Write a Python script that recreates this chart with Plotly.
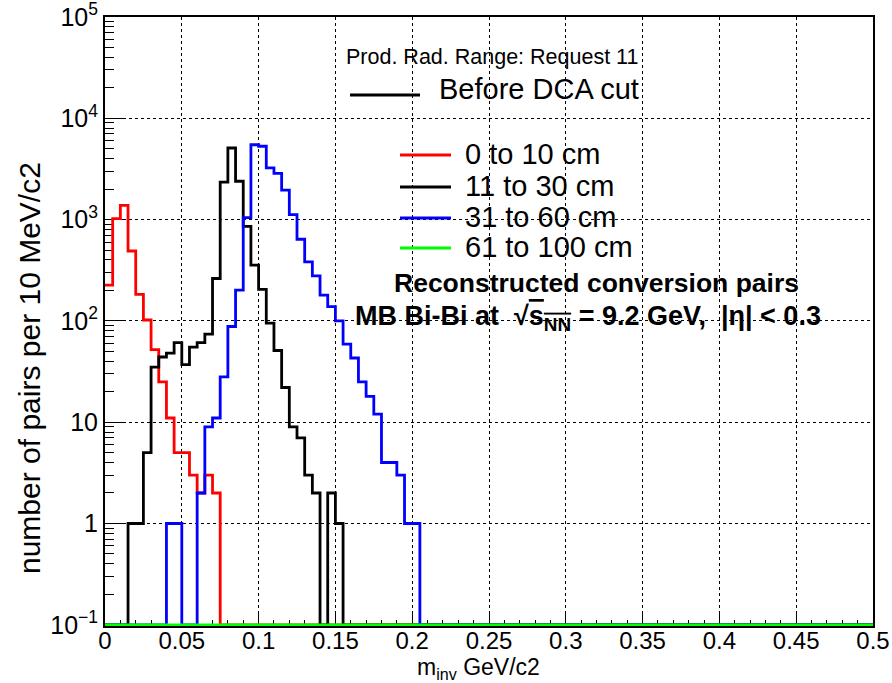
import plotly.graph_objects as go

# ---------------- data ----------------
BIN_WIDTH = 0.005          # GeV/c2
X_MIN, X_MAX = 0.0, 0.5
N_BINS = 100
Y_FLOOR = 0.1              # empty bins are drawn on the bottom of the log axis

# counts per bin, listed from the first non-empty bin
red_first_bin = 0          # 0 to 10 cm
red_counts = [225, 1020, 1380, 490, 183, 102, 52, 25, 11, 5, 5, 3, 2, 3, 2]

black_first_bin = 3        # 11 to 30 cm
black_counts = [1, 1, 5, 35, 44, 48, 61, 37, 55, 61, 74, 262, 2340, 5090, 2390,
                857, 355, 205, 95, 51, 22, 9, 7, 3, 2, 0, 2, 1]

blue_first_bin = 8         # 31 to 60 cm
blue_counts = [1, 1, 0, 0, 2, 9, 11, 28, 88, 201, 1045, 5480, 5300, 3240, 2860,
               1950, 1120, 640, 382, 278, 180, 138, 100, 59, 43, 25, 18, 12, 4, 4,
               3, 1, 1]

green_first_bin = 0        # 61 to 100 cm (empty)
green_counts = []

series_names = ["0 to 10 cm", "11 to 30 cm", "31 to 60 cm", "61 to 100 cm"]
series_colors = ["#ff0000", "#000000", "#0000ff", "#00ff00"]

x_tick_vals = [0, 0.05, 0.1, 0.15, 0.2, 0.25, 0.3, 0.35, 0.4, 0.45, 0.5]
x_tick_text = ["0", "0.05", "0.1", "0.15", "0.2", "0.25", "0.3", "0.35", "0.4", "0.45", "0.5"]
y_tick_vals = [0.1, 1, 10, 100, 1000, 10000, 100000]
y_tick_text = ["10<sup>\u22121</sup>", "1", "10", "10<sup>2</sup>", "10<sup>3</sup>",
               "10<sup>4</sup>", "10<sup>5</sup>"]

FONT = "Liberation Sans, Arial, sans-serif"

# ---------------- helpers ----------------
edges = [X_MIN + i * BIN_WIDTH for i in range(N_BINS + 1)]


def full_hist(first, counts):
    vals = [0] * N_BINS
    for i, c in enumerate(counts):
        vals[first + i] = c
    return vals


def step_y(vals):
    shown = [max(v, Y_FLOOR) for v in vals]
    return shown + [shown[-1]]


hists = [full_hist(red_first_bin, red_counts),
         full_hist(black_first_bin, black_counts),
         full_hist(blue_first_bin, blue_counts),
         full_hist(green_first_bin, green_counts)]

fig = go.Figure()
for name, color, vals in zip(series_names, series_colors, hists):
    fig.add_trace(go.Scatter(x=edges, y=step_y(vals), mode="lines",
                             line=dict(color=color, width=2.8, shape="hv"),
                             name=name, showlegend=False, hoverinfo="skip"))

# ---------------- layout ----------------
W, H = 892, 683
L, R, T, B = 105, 19, 17, 57
PW, PH = W - L - R, H - T - B


def px(x):
    return (x - L) / PW


def py(y):
    return (H - B - y) / PH


minor_y = [m * 10 ** e for e in range(-1, 5) for m in range(2, 10)]

fig.update_layout(
    width=W, height=H,
    margin=dict(l=L, r=R, t=T, b=B, pad=0, autoexpand=False),
    paper_bgcolor="white", plot_bgcolor="white",
    font=dict(family=FONT, color="black"),
    showlegend=False,
    xaxis=dict(range=[X_MIN, X_MAX], tickvals=x_tick_vals, ticktext=x_tick_text,
               ticks="inside", ticklen=13, tickwidth=1, tickcolor="black",
               showline=True, linecolor="black", linewidth=2, mirror=True,
               showgrid=True, gridcolor="black", gridwidth=1, griddash="dot",
               zeroline=False, tickfont=dict(size=24, family=FONT),
               ticklabelstandoff=-8, automargin=False,
               layer="below traces",
               minor=dict(dtick=0.01, tick0=0, ticks="inside", ticklen=6,
                          tickcolor="black", tickwidth=1, showgrid=False)),
    yaxis=dict(type="log", range=[-1.012, 5], tickvals=y_tick_vals, ticktext=y_tick_text,
               ticks="inside", ticklen=20, tickwidth=1, tickcolor="black",
               showline=True, linecolor="black", linewidth=2, mirror=True,
               showgrid=True, gridcolor="black", gridwidth=1, griddash="dot",
               zeroline=False, tickfont=dict(size=25, family=FONT),
               ticklabeloverflow="allow", automargin=False,
               layer="below traces",
               minor=dict(tickvals=minor_y, ticks="inside", ticklen=9,
                          tickcolor="black", tickwidth=1, showgrid=False)),
)

annotations = [
    dict(text="Prod. Rad. Range: Request 11", x=px(492), y=py(57), size=21.5, bold=False),
    dict(text="Reconstructed conversion pairs", x=px(596), y=py(283), size=26.5, bold=True),
    dict(text="MB Bi-Bi at  \u221a<span style='text-decoration:overline'>s<sub>NN</sub></span> = 9.2 GeV,  |\u03b7| < 0.3",
         x=px(588), y=py(318), size=27, bold=True),
]
for a in annotations:
    txt = "<b>" + a["text"] + "</b>" if a["bold"] else a["text"]
    fig.add_annotation(text=txt, x=a["x"], y=a["y"], xref="paper", yref="paper",
                       xanchor="center", yanchor="middle", showarrow=False,
                       font=dict(size=a["size"], family=FONT, color="black"))

# "Before DCA cut" legend
fig.add_shape(type="line", xref="paper", yref="paper", x0=px(350), x1=px(420),
              y0=py(95), y1=py(95), line=dict(color="black", width=2.8))
fig.add_annotation(text="Before DCA cut", x=px(437), y=py(89), xref="paper", yref="paper",
                   xanchor="left", yanchor="middle", showarrow=False,
                   font=dict(size=29, family=FONT, color="black"))

# series legend
legend_rows_y = [155, 187, 218, 248]
for name, color, ry in zip(series_names, series_colors, legend_rows_y):
    fig.add_shape(type="line", xref="paper", yref="paper", x0=px(400), x1=px(451),
                  y0=py(ry), y1=py(ry), line=dict(color=color, width=2.8))
    fig.add_annotation(text=name, x=px(463), y=py(ry - 1), xref="paper", yref="paper",
                       xanchor="left", yanchor="middle", showarrow=False,
                       font=dict(size=29, family=FONT, color="black"))

# axis titles
fig.add_annotation(text="m<sub>inv</sub> GeV/c2", x=px(478), y=py(668), xref="paper",
                   yref="paper", xanchor="center", yanchor="middle", showarrow=False,
                   font=dict(size=23, family=FONT, color="black"))
fig.add_annotation(text="number of pairs per 10 MeV/c2", x=px(29), y=py(368), xref="paper",
                   yref="paper", xanchor="center", yanchor="middle", showarrow=False,
                   textangle=-90, font=dict(size=30, family=FONT, color="black"))

fig.write_html("out.html")
